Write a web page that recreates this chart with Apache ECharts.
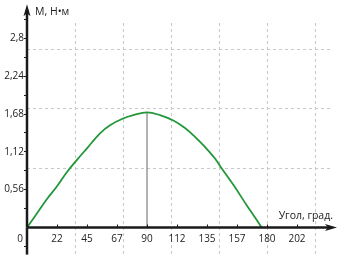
<!DOCTYPE html>
<html><head><meta charset="utf-8">
<script src="https://cdn.jsdelivr.net/npm/echarts@6/dist/echarts.min.js"></script>
<style>html,body{margin:0;padding:0;background:#fff}#c{width:340px;height:261px}</style>
</head><body><div id="c"></div>
<script>
// Data
var angles = [0, 7.5, 15, 22.5, 30, 37.5, 45, 54.75, 62.25, 72, 79.7, 90, 99.75, 109.75, 118.5, 126, 133.5, 141, 144.75, 154.75, 164.75, 169.75, 176];
var torque = [0, 0.21, 0.42, 0.61, 0.82, 1.00, 1.17, 1.39, 1.51, 1.61, 1.66, 1.70, 1.66, 1.58, 1.47, 1.34, 1.19, 1.02, 0.91, 0.63, 0.33, 0.185, 0];
var peakAngle = 90, peakValue = 1.70;
var xTickValues = [22.5, 45, 67.5, 90, 112.5, 135, 157.5, 180, 202.5];
var xTickLabels = ['22', '45', '67', '90', '112', '135', '157', '180', '202'];
var yLabelValues = [0.56, 1.12, 1.68, 2.24, 2.8];
var yLabelTexts = ['0,56', '1,12', '1,68', '2,24', '2,8'];
var yTickValues = [0.28, 0.56, 0.84, 1.12, 1.4, 1.68, 1.96, 2.24, 2.52, 2.8, 3.08];
var yNegTickValues = [-0.28];
var xGridStep = 36, xGridMax = 216;
var yGridStep = 0.88, yGridMax = 2.64;
var xAxisEnd = 228, yAxisEnd = 3.21, yAxisStart = -0.4;
var xTitle = 'Угол, град.', yTitle = 'М, Н•м';

var font = 'Open Sans';
var curve = angles.map(function (a, i) { return [a, torque[i]]; });
var chart = echarts.init(document.getElementById('c'), null, {renderer: 'canvas'});
var dash = {color: '#c8c8c8', width: 1, type: [3, 3]};
var gb = {containLabel: false, outerBoundsMode: 'none'};
var axisColor = '#1a1a1a';
function hiddenAxis(o) {
  return Object.assign({show: true, axisLine: {show: false}, axisTick: {show: false}, axisLabel: {show: false}, splitLine: {show: false}}, o);
}
function axisSeries(xi, yi, p0, p1) {
  return {type: 'line', xAxisIndex: xi, yAxisIndex: yi, clip: false, silent: true, z: 6,
    symbol: 'none', data: [p0, p1], lineStyle: {color: axisColor, width: 2.5, type: 'solid', opacity: 1}};
}
chart.setOption({
  animation: false,
  grid: [
    Object.assign({left: 27, right: 5, top: 5.5, bottom: 33.5}, gb),   // main
    Object.assign({left: 27, right: 5, top: 227.5, bottom: 6.4}, gb),  // negative y extension
    Object.assign({left: 27, right: 25, top: 23, bottom: 6}, gb),      // vertical grid lines
    Object.assign({left: 27, right: 8, top: 48.8, bottom: 33.5}, gb)   // horizontal grid lines
  ],
  xAxis: [
    {gridIndex: 0, type: 'value', min: 0, max: 231, position: 'bottom', z: 6,
     name: xTitle, nameLocation: 'end', nameGap: -2,
     nameTextStyle: {fontFamily: font, fontSize: 10.5, color: '#222', align: 'right', verticalAlign: 'bottom', padding: [0, 0, 6, 0]},
     axisLine: {show: false},
     axisTick: {show: true, customValues: xTickValues, length: 3, inside: true, lineStyle: {color: axisColor, width: 1}},
     axisLabel: {show: true, customValues: [0].concat(xTickValues), fontFamily: font, fontSize: 10, color: '#222', margin: 7,
       formatter: function (v) {
         if (v === 0) return '{z|0}';
         var i = xTickValues.indexOf(v); return i >= 0 ? xTickLabels[i] : '';
       },
       rich: {z: {fontFamily: font, fontSize: 10, color: '#222', padding: [0, 14, 3, 0]}}},
     splitLine: {show: false}},
    hiddenAxis({gridIndex: 1, type: 'value', min: 0, max: 231}),
    hiddenAxis({gridIndex: 2, type: 'value', min: 0, max: xGridMax, interval: xGridStep, splitLine: {show: true, lineStyle: dash}}),
    hiddenAxis({gridIndex: 3, type: 'value', min: 0, max: 228})
  ],
  yAxis: [
    {gridIndex: 0, type: 'value', min: 0, max: 3.28, position: 'left', z: 6,
     name: yTitle, nameLocation: 'end', nameGap: -7,
     nameTextStyle: {fontFamily: font, fontSize: 10.5, color: '#222', align: 'left', verticalAlign: 'middle', padding: [0, 0, 0, 8]},
     axisLine: {show: false},
     axisTick: {show: true, customValues: yTickValues, length: 3, lineStyle: {color: axisColor, width: 1}},
     axisLabel: {show: true, customValues: yLabelValues, fontFamily: font, fontSize: 10, color: '#222', margin: 3,
       formatter: function (v) { var i = yLabelValues.indexOf(v); return i >= 0 ? yLabelTexts[i] : ''; }},
     splitLine: {show: false}},
    {gridIndex: 1, type: 'value', min: -0.4, max: 0, position: 'left', z: 6,
     axisLine: {show: false},
     axisTick: {show: true, customValues: yNegTickValues, length: 3, lineStyle: {color: axisColor, width: 1}},
     axisLabel: {show: false}, splitLine: {show: false}},
    hiddenAxis({gridIndex: 2, type: 'value', min: 0, max: 1}),
    hiddenAxis({gridIndex: 3, type: 'value', min: 0, max: yGridMax, interval: yGridStep, splitLine: {show: true, lineStyle: dash}})
  ],
  series: [
    {type: 'line', xAxisIndex: 0, yAxisIndex: 0, data: [[peakAngle, 0], [peakAngle, peakValue]],
     symbol: 'none', lineStyle: {color: '#666', width: 1}, z: 3},
    {type: 'line', xAxisIndex: 0, yAxisIndex: 0, data: curve, smooth: 0.4,
     symbol: 'none', lineStyle: {color: '#23973a', width: 1.8}, z: 4},
    axisSeries(0, 0, [0, 0], [xAxisEnd, 0]),
    axisSeries(0, 0, [0, 0], [0, yAxisEnd]),
    axisSeries(1, 1, [0, yAxisStart], [0, 0])
  ]
});
// Arrowheads placed through the chart's own scales
var xe = chart.convertToPixel({gridIndex: 0}, [xAxisEnd, 0]);
var ye = chart.convertToPixel({gridIndex: 0}, [0, yAxisEnd]);
chart.setOption({graphic: [
  {type: 'polygon', z: 100, shape: {points: [[xe[0] + 6, xe[1]], [xe[0] - 6, xe[1] - 3.5], [xe[0] - 3, xe[1]], [xe[0] - 6, xe[1] + 3.5]]}, style: {fill: axisColor}},
  {type: 'polygon', z: 100, shape: {points: [[ye[0], ye[1] - 6], [ye[0] - 3.5, ye[1] + 6], [ye[0], ye[1] + 3], [ye[0] + 3.5, ye[1] + 6]]}, style: {fill: axisColor}}
]});
</script></body></html>
